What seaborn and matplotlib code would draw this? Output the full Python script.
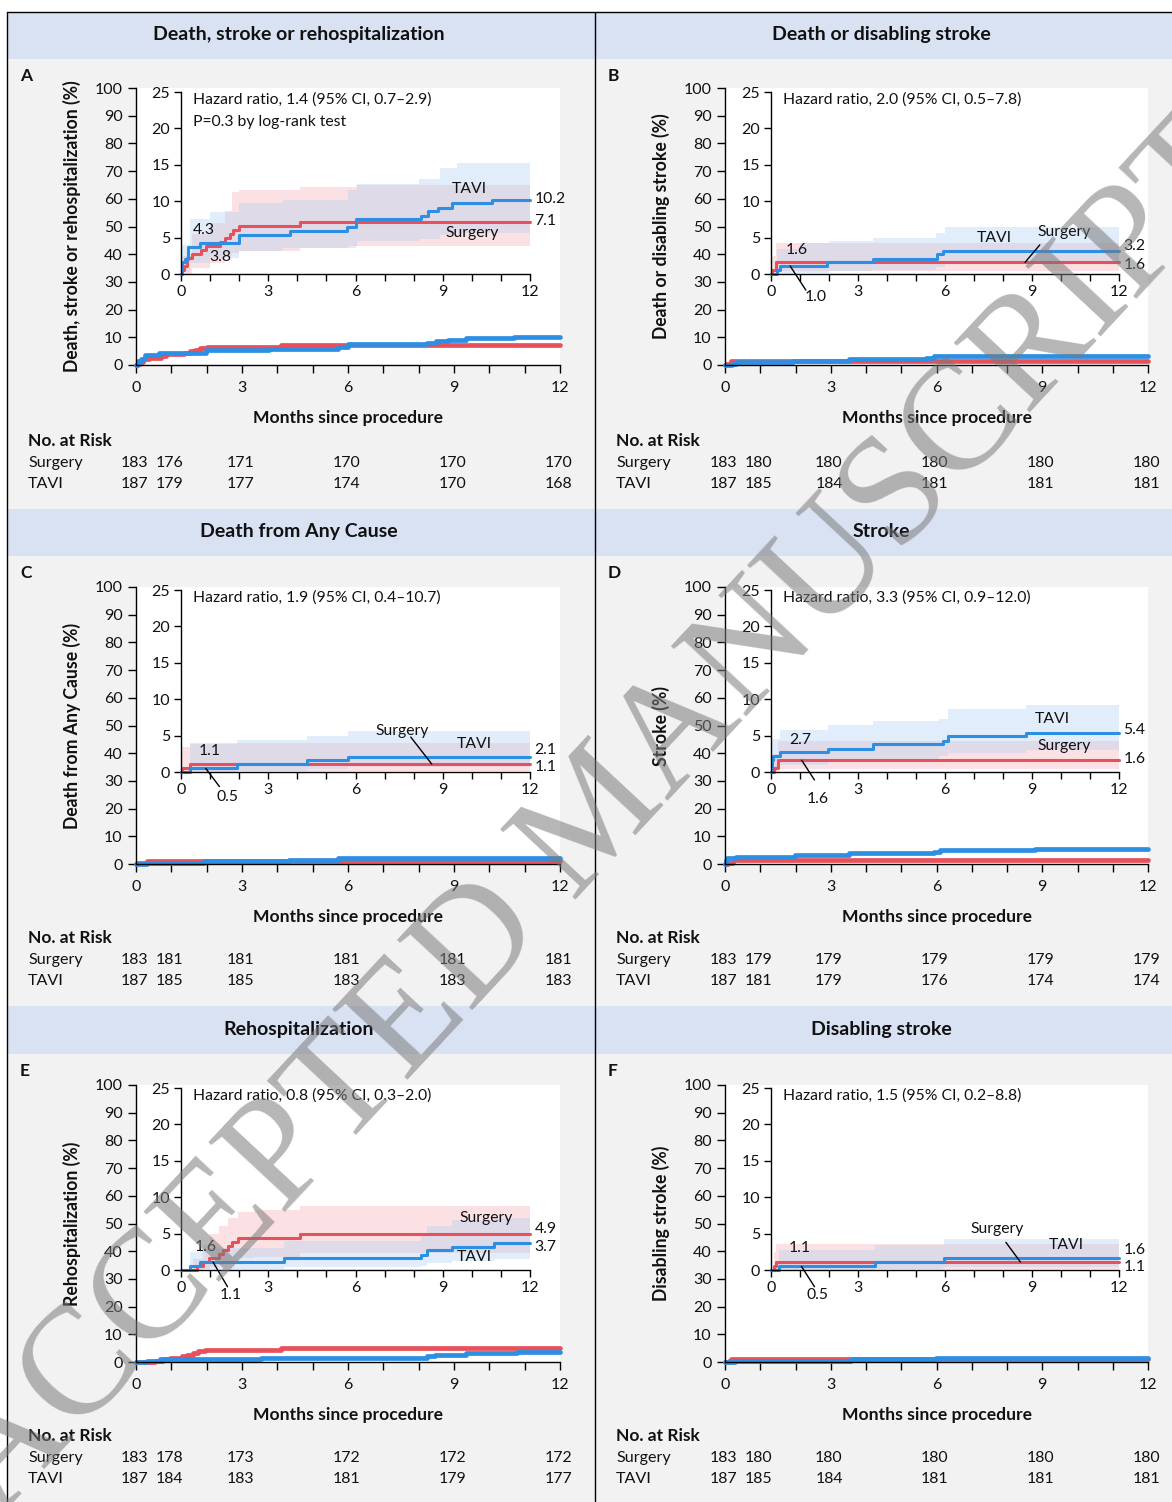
import numpy as np
import pandas as pd
import matplotlib
matplotlib.use("Agg")
import matplotlib.pyplot as plt
import matplotlib.transforms as mtransforms
from matplotlib.patches import Rectangle
from matplotlib.ticker import MultipleLocator
import seaborn as sns

sns.set_theme(style="ticks")
plt.rcParams["font.family"] = ["Lato", "DejaVu Sans"]

# ---------------------------------------------------------------- data
panel_letters = ["A", "B", "C", "D", "E", "F"]
panel_titles = ["Death, stroke or rehospitalization", "Death or disabling stroke",
                "Death from Any Cause", "Stroke", "Rehospitalization", "Disabling stroke"]
y_labels = ["Death, stroke or rehospitalization (%)", "Death or disabling stroke (%)",
            "Death from Any Cause (%)", "Stroke (%)", "Rehospitalization (%)",
            "Disabling stroke (%)"]
hazard_texts = ["Hazard ratio, 1.4 (95% CI, 0.7\u20132.9)\nP=0.3 by log-rank test",
                "Hazard ratio, 2.0 (95% CI, 0.5\u20137.8)",
                "Hazard ratio, 1.9 (95% CI, 0.4\u201310.7)",
                "Hazard ratio, 3.3 (95% CI, 0.9\u201312.0)",
                "Hazard ratio, 0.8 (95% CI, 0.3\u20132.0)",
                "Hazard ratio, 1.5 (95% CI, 0.2\u20138.8)"]

risk_months = [0, 1, 3, 6, 9, 12]
risk_surgery = [[183, 176, 171, 170, 170, 170], [183, 180, 180, 180, 180, 180],
                [183, 181, 181, 181, 181, 181], [183, 179, 179, 179, 179, 179],
                [183, 178, 173, 172, 172, 172], [183, 180, 180, 180, 180, 180]]
risk_tavi = [[187, 179, 177, 174, 170, 168], [187, 185, 184, 181, 181, 181],
             [187, 185, 185, 183, 183, 183], [187, 181, 179, 176, 174, 174],
             [187, 184, 183, 181, 179, 177], [187, 185, 184, 181, 181, 181]]

# Kaplan-Meier step curves (month, cumulative %)
A_tavi_t = [0, 0.05, 0.14, 0.25, 0.66, 1.98, 3.76, 5.71, 6.0, 8.24, 8.5, 8.82, 9.33, 10.71, 12]
A_tavi_v = [0, 1.6, 2.1, 3.7, 4.3, 5.3, 5.9, 6.4, 7.5, 8.0, 8.6, 9.1, 9.7, 10.2, 10.2]
A_surg_t = [0, 0.03, 0.1, 0.2, 0.37, 0.7, 0.85, 1.35, 1.52, 1.68, 1.8, 2.0, 4.1, 12]
A_surg_v = [0, 0.5, 1.1, 2.2, 2.7, 3.3, 3.8, 4.4, 4.9, 5.5, 6.0, 6.6, 7.1, 7.1]
B_tavi_t = [0, 0.2, 0.31, 1.92, 3.53, 5.71, 5.94, 12]
B_tavi_v = [0, 0.5, 1.1, 1.6, 2.1, 2.7, 3.2, 3.2]
B_surg_t = [0, 0.02, 0.16, 12]
B_surg_v = [0, 0.5, 1.6, 1.6]
C_tavi_t = [0, 0.31, 1.92, 4.33, 5.73, 12]
C_tavi_v = [0, 0.5, 1.1, 1.6, 2.1, 2.1]
C_surg_t = [0, 0.02, 0.31, 12]
C_surg_v = [0, 0.5, 1.1, 1.1]
D_tavi_t = [0, 0.03, 0.06, 0.32, 1.98, 3.53, 5.94, 6.1, 8.8, 12]
D_tavi_v = [0, 1.6, 2.2, 2.7, 3.2, 3.8, 4.3, 4.9, 5.4, 5.4]
D_surg_t = [0, 0.09, 0.24, 12]
D_surg_v = [0, 0.5, 1.6, 1.6]
E_tavi_t = [0, 0.32, 0.67, 3.54, 8.24, 8.47, 9.33, 10.77, 12]
E_tavi_v = [0, 0.5, 1.1, 1.6, 2.1, 2.7, 3.2, 3.7, 3.7]
E_surg_t = [0, 0.55, 0.75, 0.95, 1.3, 1.45, 1.6, 1.75, 1.95, 4.1, 12]
E_surg_v = [0, 0.5, 1.1, 1.6, 2.2, 2.7, 3.3, 3.8, 4.4, 4.9, 4.9]
F_tavi_t = [0, 0.29, 3.57, 5.98, 12]
F_tavi_v = [0, 0.5, 1.1, 1.6, 1.6]
F_surg_t = [0, 0.1, 0.17, 12]
F_surg_v = [0, 0.5, 1.1, 1.1]

# 95% confidence bands (month, lower %, upper %)
A_tavi_ci_t = [0.05, 0.3, 1.0, 2.0, 3.5, 5.75, 6.05, 8.2, 8.9, 9.5, 12]
A_tavi_ci_lo = [0.3, 1.5, 2.2, 3.1, 3.6, 3.9, 4.5, 4.8, 5.3, 5.7, 6.0]
A_tavi_ci_hi = [4.0, 7.5, 8.5, 9.7, 10.2, 11.5, 12.4, 13.0, 14.5, 15.3, 15.6]
A_surg_ci_t = [0.03, 0.37, 1.0, 1.5, 1.75, 2.0, 4.1, 6.0, 12]
A_surg_ci_lo = [0.0, 0.8, 1.5, 2.5, 2.9, 3.2, 3.6, 3.8, 4.3]
A_surg_ci_hi = [2.5, 5.5, 7.0, 8.7, 11.2, 11.6, 12.0, 12.2, 12.2]
B_tavi_ci_t = [0.2, 1.0, 2.0, 3.5, 5.7, 6.0, 12]
B_tavi_ci_lo = [0.0, 0.2, 0.4, 0.6, 1.0, 1.4, 1.4]
B_tavi_ci_hi = [3.5, 4.3, 4.6, 5.0, 5.6, 6.5, 6.5]
B_surg_ci_t = [0.02, 0.16, 12]
B_surg_ci_lo = [0.0, 0.4, 0.4]
B_surg_ci_hi = [2.5, 4.3, 4.3]
C_tavi_ci_t = [0.31, 1.92, 4.33, 5.73, 12]
C_tavi_ci_lo = [0.0, 0.2, 0.4, 0.7, 0.7]
C_tavi_ci_hi = [3.9, 4.4, 5.0, 5.6, 5.6]
C_surg_ci_t = [0.02, 0.31, 12]
C_surg_ci_lo = [0.0, 0.2, 0.2]
C_surg_ci_hi = [3.5, 4.0, 4.0]
D_tavi_ci_t = [0.03, 0.32, 1.98, 3.53, 5.8, 6.1, 8.8, 12]
D_tavi_ci_lo = [0.4, 1.0, 1.4, 1.8, 2.2, 2.6, 3.0, 3.0]
D_tavi_ci_hi = [4.5, 5.8, 6.5, 7.0, 7.3, 8.6, 9.2, 9.2]
D_surg_ci_t = [0.09, 0.24, 12]
D_surg_ci_lo = [0.0, 0.4, 0.4]
D_surg_ci_hi = [2.5, 4.3, 4.3]
E_tavi_ci_t = [0.32, 0.67, 3.54, 8.24, 8.47, 9.33, 10.77, 12]
E_tavi_ci_lo = [0.0, 0.2, 0.4, 0.6, 0.9, 1.2, 1.5, 1.5]
E_tavi_ci_hi = [2.5, 3.0, 4.0, 5.0, 6.0, 6.8, 7.2, 7.2]
E_surg_ci_t = [0.4, 0.75, 1.0, 1.3, 1.6, 1.95, 2.5, 4.1, 12]
E_surg_ci_lo = [0.0, 0.1, 0.4, 0.7, 1.1, 1.6, 1.8, 2.3, 2.3]
E_surg_ci_hi = [1.5, 3.5, 5.0, 6.0, 7.2, 8.0, 8.3, 8.8, 8.8]
F_tavi_ci_t = [0.29, 3.57, 5.9, 5.98, 12]
F_tavi_ci_lo = [0.0, 0.2, 0.3, 0.4, 0.4]
F_tavi_ci_hi = [2.7, 3.5, 3.5, 4.3, 4.3]
F_surg_ci_t = [0.1, 0.17, 12]
F_surg_ci_lo = [0.0, 0.2, 0.2]
F_surg_ci_hi = [2.5, 3.6, 3.6]

# in-plot value labels: (text, month, %)
A_labels = [("TAVI", 9.9, 11.7), ("Surgery", 10.0, 5.6), ("4.3", 0.8, 6.0), ("3.8", 1.35, 2.3)]
B_labels = [("TAVI", 7.7, 4.9), ("Surgery", 10.1, 5.8), ("1.6", 0.9, 3.3), ("1.0", 1.55, -3.2)]
C_labels = [("Surgery", 7.6, 5.6), ("TAVI", 10.1, 3.8), ("1.1", 1.0, 2.9), ("0.5", 1.6, -3.4)]
D_labels = [("TAVI", 9.7, 7.3), ("Surgery", 10.1, 3.6), ("2.7", 1.0, 4.4), ("1.6", 1.6, -3.7)]
E_labels = [("Surgery", 10.5, 7.1), ("TAVI", 10.1, 1.8), ("1.6", 0.85, 3.1), ("1.1", 1.7, -3.5)]
F_labels = [("Surgery", 7.8, 5.7), ("TAVI", 10.2, 3.5), ("1.1", 1.0, 3.0), ("0.5", 1.6, -3.5)]
# end-of-curve labels: (text, %)
A_end = [("10.2", 10.3), ("7.1", 7.3)]
B_end = [("3.2", 3.8), ("1.6", 1.2)]
C_end = [("2.1", 3.0), ("1.1", 0.7)]
D_end = [("5.4", 5.8), ("1.6", 1.8)]
E_end = [("4.9", 5.7), ("3.7", 3.1)]
F_end = [("1.6", 2.7), ("1.1", 0.4)]
# leader lines: (from month, from %, to month, to %)
A_leaders = []
B_leaders = [(1.2, -2.2, 0.66, 1.1), (9.27, 4.0, 8.76, 1.6)]
C_leaders = [(1.32, -2.0, 0.85, 0.5), (7.9, 4.8, 8.62, 1.1)]
D_leaders = [(1.5, -1.1, 1.06, 1.6)]
E_leaders = [(1.6, -2.3, 1.1, 1.1)]
F_leaders = [(1.5, -2.3, 1.05, 0.5), (8.1, 3.8, 8.6, 1.1)]

# --------------------------------------------------------------- style
RED = "#E8505B"
BLUE = "#2D8FE3"
RED_BAND = "#F4A6AA"
BLUE_BAND = "#A9CDF2"
HEADER = "#D9E2F3"
BODY = "#F2F2F2"
INK = "#111111"

W, H = 1172, 1502
fig = plt.figure(figsize=(W / 100, H / 100), dpi=100)
fig.patch.set_facecolor("white")


def frac_rect(x0, y0, x1, y1):
    return [x0 / W, 1 - y1 / H, (x1 - x0) / W, (y1 - y0) / H]


def prect(x0, y0, x1, y1, fc, z=0):
    fig.add_artist(Rectangle((x0 / W, 1 - y1 / H), (x1 - x0) / W, (y1 - y0) / H,
                             transform=fig.transFigure, fc=fc, ec="none", lw=0, zorder=z))


def ftext(x, y, s, **kw):
    return fig.text(x / W, 1 - y / H, s, **kw)


def fline(xs, ys):
    fig.add_artist(plt.Line2D([x / W for x in xs], [1 - y / H for y in ys], color="black",
                              lw=1, transform=fig.transFigure, zorder=5))


col_left = [7, 595]
col_right = [595, 1172]
rows = [(12, 59, 509), (509, 556, 1006), (1006, 1054, 1502)]
main_x = [(136, 560), (725, 1148)]
main_y = [(88, 365), (587, 864), (1085, 1362)]
ins_x = [(181, 530), (771, 1119)]
ins_y = [(92, 274), (590, 772), (1088, 1270)]

# panel backgrounds and frame
for r, (ht, hb, bb) in enumerate(rows):
    for c in range(2):
        prect(col_left[c], hb, col_right[c], bb, BODY)
        prect(col_left[c], ht, col_right[c], hb, HEADER)
fline([7, 1172], [12, 12])
fline([7, 7], [12, 1502])
fline([595, 595], [12, 1502])

g = globals()
TICK_FS = 11.5
TXT_FS = 11.3


def style_axis(ax, fs, ticklen):
    sns.despine(ax=ax)
    for s in ["left", "bottom"]:
        ax.spines[s].set_color("black")
        ax.spines[s].set_linewidth(1.0)
    ax.tick_params(axis="both", which="both", direction="out", color="black",
                   width=1.0, labelsize=fs, labelcolor=INK)
    ax.tick_params(axis="both", which="major", length=ticklen, pad=3)
    ax.tick_params(axis="x", which="minor", length=ticklen)


def km_frame(L):
    rows_ = []
    for arm, key in (("Surgery", "surg"), ("TAVI", "tavi")):
        for t, v in zip(g[f"{L}_{key}_t"], g[f"{L}_{key}_v"]):
            rows_.append({"arm": arm, "month": t, "pct": v})
    return pd.DataFrame(rows_)


for i, L in enumerate(panel_letters):
    r, c = divmod(i, 2)
    ht, hb, bb = rows[r]
    # header + letter
    ftext((col_left[c] + col_right[c]) / 2 - 2, (ht + hb) / 2 - 1, panel_titles[i],
          ha="center", va="center", fontsize=14, weight="bold", color=INK, zorder=6)
    ftext(col_left[c] + 13, hb + 17, L, ha="left", va="center", fontsize=12.5,
          weight="bold", color=INK, zorder=6)

    df = km_frame(L)
    pal = {"Surgery": RED, "TAVI": BLUE}

    # ---- main axes 0-100
    mx0, mx1 = main_x[c]
    my0, my1 = main_y[r]
    ax = fig.add_axes(frac_rect(mx0, my0, mx1, my1))
    ax.set_facecolor("white")
    sns.lineplot(data=df, x="month", y="pct", hue="arm", hue_order=["Surgery", "TAVI"],
                 palette=pal, estimator=None, sort=False, drawstyle="steps-post",
                 lw=3.4, legend=False, ax=ax, clip_on=False)
    ax.set_xlim(0, 12)
    ax.set_ylim(0, 100)
    ax.set_xticks([0, 3, 6, 9, 12])
    ax.xaxis.set_minor_locator(MultipleLocator(1))
    ax.set_yticks(range(0, 101, 10))
    style_axis(ax, TICK_FS, 6)
    ax.tick_params(axis="x", which="major", pad=5.5)
    ax.tick_params(axis="y", which="major", pad=3.5)
    ax.set_xlabel("Months since procedure", fontsize=12.6, weight="bold", color=INK)
    ax.xaxis.set_label_coords(0.5, -53 / (my1 - my0))
    ax.xaxis.label.set_va("center")
    ax.set_ylabel(y_labels[i], fontsize=12.7, weight="bold", color=INK)
    ax.yaxis.label.set_va("center")
    ax.yaxis.set_label_coords(-64 / (mx1 - mx0), 0.5)

    # ---- number at risk
    tr = mtransforms.blended_transform_factory(ax.transData, fig.transFigure)
    ftext(col_left[c] + 21, hb + 382, "No. at Risk", ha="left", va="center",
          fontsize=12.5, weight="bold", color=INK)
    ftext(col_left[c] + 21, hb + 404, "Surgery", ha="left", va="center",
          fontsize=11.6, color=INK)
    ftext(col_left[c] + 21, hb + 425, "TAVI", ha="left", va="center",
          fontsize=11.6, color=INK)
    for m, ns, nt in zip(risk_months, risk_surgery[i], risk_tavi[i]):
        ax.text(m - 0.05, 1 - (hb + 404) / H, str(ns), transform=tr, ha="center",
                va="center", fontsize=11.4, color=INK, clip_on=False)
        ax.text(m - 0.05, 1 - (hb + 425) / H, str(nt), transform=tr, ha="center",
                va="center", fontsize=11.4, color=INK, clip_on=False)

    # ---- inset 0-25
    ix0, ix1 = ins_x[c]
    iy0, iy1 = ins_y[r]
    ai = fig.add_axes(frac_rect(ix0, iy0, ix1, iy1))
    ai.patch.set_alpha(0)
    ai.fill_between(g[f"{L}_surg_ci_t"], g[f"{L}_surg_ci_lo"], g[f"{L}_surg_ci_hi"],
                    step="post", color=RED_BAND, alpha=0.33, lw=0)
    ai.fill_between(g[f"{L}_tavi_ci_t"], g[f"{L}_tavi_ci_lo"], g[f"{L}_tavi_ci_hi"],
                    step="post", color=BLUE_BAND, alpha=0.35, lw=0)
    sns.lineplot(data=df, x="month", y="pct", hue="arm", hue_order=["Surgery", "TAVI"],
                 palette=pal, estimator=None, sort=False, drawstyle="steps-post",
                 lw=2.2, legend=False, ax=ai, clip_on=False)
    ai.set_xlim(0, 12)
    ai.set_ylim(0, 25)
    ai.set_xticks([0, 3, 6, 9, 12])
    ai.xaxis.set_minor_locator(MultipleLocator(1))
    ai.set_yticks(range(0, 26, 5))
    style_axis(ai, TICK_FS, 5)
    ai.tick_params(axis="x", which="major", pad=3)
    ai.tick_params(axis="y", which="major", pad=3)
    ai.set_xlabel("")
    ai.set_ylabel("")

    ai.text(0.42, 25.0, hazard_texts[i], ha="left", va="top", fontsize=TXT_FS,
            color=INK, linespacing=1.75)
    for s, x, y in g[f"{L}_labels"]:
        ai.text(x, y, s, ha="center", va="center", fontsize=TXT_FS, color=INK,
                clip_on=False)
    for s, y in g[f"{L}_end"]:
        ai.text(12.15, y, s, ha="left", va="center", fontsize=TXT_FS, color=INK,
                clip_on=False)
    for x0, y0, x1, y1 in g[f"{L}_leaders"]:
        ai.annotate("", xy=(x1, y1), xytext=(x0, y0),
                    arrowprops=dict(arrowstyle="-", color="black", lw=1.0,
                                    shrinkA=0, shrinkB=0), annotation_clip=False)

# watermark
ftext(600, 818, "ACCEPTED MANUSCRIPT", ha="center", va="center", rotation=47.0,
      rotation_mode="anchor", fontsize=112, family="Liberation Serif",
      color="#7a7a7a", alpha=0.55, zorder=50)

fig.savefig("out.png", dpi=100)
